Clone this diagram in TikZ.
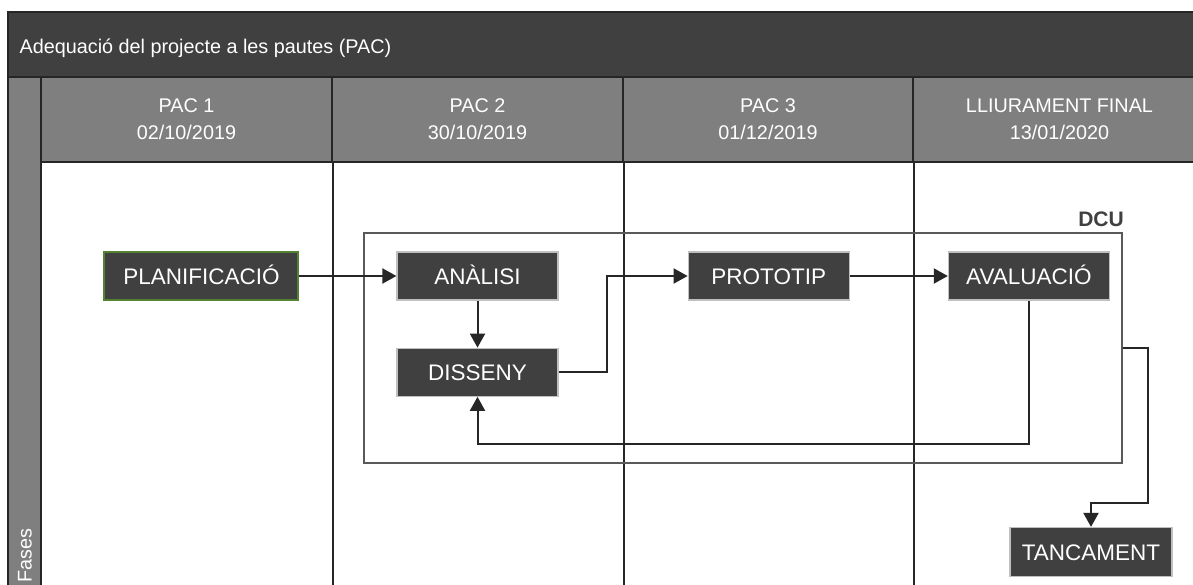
\documentclass[tikz,border=0pt]{standalone}
\usepackage{fontspec}
\setmainfont{Liberation Sans}
\usepackage{tikz}
\usetikzlibrary{arrows.meta,positioning}
\definecolor{fosc}{RGB}{64,64,64}
\definecolor{gris}{RGB}{127,127,127}
\definecolor{linia}{RGB}{38,38,38}
\definecolor{vorafase}{RGB}{191,191,191}
\definecolor{verd}{RGB}{84,130,53}
\definecolor{grisdcu}{RGB}{89,89,89}

\begin{document}
\begin{tikzpicture}[x=0.5pt,y=-0.5pt,>={Triangle[length=7pt,width=7.5pt]},line width=1pt,node distance=23.5pt]
 \tikzstyle{capcalera}=[draw=linia,fill=gris,text=white,align=center,minimum height=42.5pt,font=\fontsize{9.9}{13.5}\selectfont]
 \tikzstyle{fase}=[draw=vorafase,line width=0.6pt,fill=fosc,text=white,minimum width=80.5pt,minimum height=24pt,text height=8pt,text depth=0pt,font=\fontsize{11.25}{13}\selectfont]
 \tikzstyle{fletxa}=[->,draw=linia]
 \tikzstyle{divisio}=[draw=linia]

   \path[use as bounding box,clip] (0,0) rectangle (1193,584);
   \fill[white] (0,0) rectangle (1193,584);
   \draw[linia,fill=white] (8,12) rectangle (1206,600);
   \draw[linia,fill=fosc] (8,12) rectangle (1206,77);
   \node[anchor=west,text=white,font=\fontsize{9.9}{12}\selectfont] (titol) at (12,48) {Adequació del projecte a les pautes (PAC)};

   \draw[linia,fill=gris] (8,77) rectangle (41,600);
   \node[rotate=90,anchor=west,text=white,font=\fontsize{9.9}{12}\selectfont] (fases) at (25,590) {Fases};

   \node[capcalera,minimum width=145.5pt] (pac1) at (186.5,119.5) {PAC 1\\02/10/2019};
   \node[capcalera,minimum width=145.5pt] (pac2) at (477.5,119.5) {PAC 2\\30/10/2019};
   \node[capcalera,minimum width=145pt] (pac3) at (768,119.5) {PAC 3\\01/12/2019};
   \node[capcalera,minimum width=146.5pt] (final) at (1059.5,119.5) {LLIURAMENT FINAL\\13/01/2020};
   \foreach \c in {pac1,pac2,pac3}
     \draw[divisio] (\c.south east) -- ++(0,450);

   \node[draw=grisdcu,line width=0.8pt,minimum width=379pt,minimum height=115pt] (dcu) at (743,348) {};
   \node[anchor=base east,inner sep=0pt,font=\fontsize{10.5}{12}\selectfont\bfseries,text=fosc] (dcutxt) at ([xshift=1pt,yshift=3pt]dcu.north east) {DCU};

   \node[fase] (analisi) at (477.5,276) {ANÀLISI};
   \node[fase,draw=verd,line width=1pt,minimum width=97pt,left=48.5pt of analisi] (planif) {PLANIFICACIÓ};
   \node[fase,below=of analisi] (disseny) {DISSENY};
   \node[fase,right=64.5pt of analisi] (prototip) {PROTOTIP};
   \node[fase,right=49pt of prototip] (avaluacio) {AVALUACIÓ};
   \node[fase,minimum width=81pt,minimum height=24.5pt] (tancament) at (1091,552) {TANCAMENT};

   \draw[fletxa] (planif) -- (analisi);
   \draw[fletxa] (analisi) -- (disseny);
   \draw[fletxa] (disseny.east) -- ++(48,0) |- (prototip.west);
   \draw[fletxa] (prototip) -- (avaluacio);
   \draw[fletxa] (avaluacio.south) -- ++(0,143) -| (disseny.south);
   \draw[fletxa] (dcu.east) -- ++(25,0) -- ++(0,155) -| (tancament.north);

\end{tikzpicture}
\end{document}
